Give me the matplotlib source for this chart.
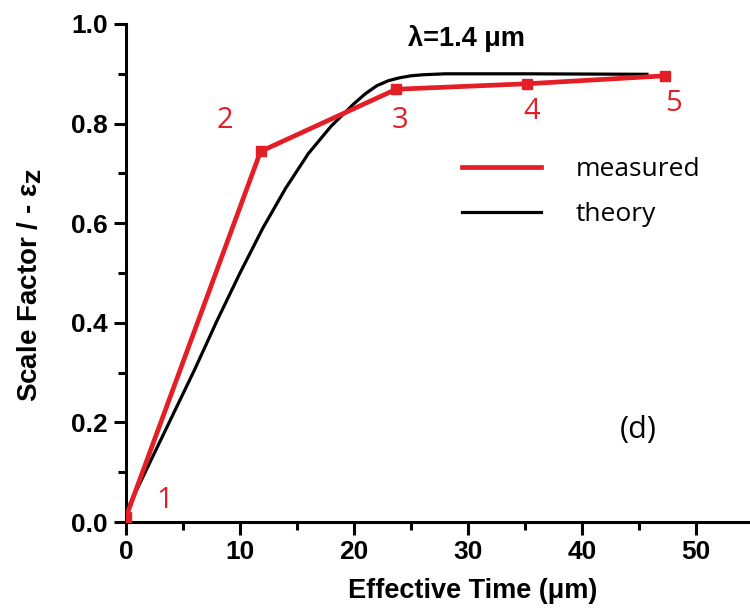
import numpy as np
import matplotlib
matplotlib.use('Agg')
import matplotlib.pyplot as plt
from matplotlib.ticker import MultipleLocator, FormatStrFormatter

plt.rcParams['font.family'] = ['Liberation Sans', 'DejaVu Sans']

# measured scale factor (points 1..5)
t_meas = [0.0, 11.8, 23.7, 35.2, 47.3]
s_meas = [0.01, 0.744, 0.869, 0.880, 0.896]
pt_labels = ['1', '2', '3', '4', '5']
lab_x = [3.4, 8.7, 24.0, 35.6, 48.0]
lab_y = [0.044, 0.807, 0.807, 0.824, 0.841]

# theory curve
t_theo = [0, 2, 4, 6, 8, 10, 12, 14, 16, 18, 20, 21, 22, 23, 24, 25, 26, 28, 35, 45.7]
s_theo = [0.02, 0.115, 0.21, 0.305, 0.405, 0.50, 0.59, 0.67, 0.74, 0.795,
          0.84, 0.86, 0.876, 0.886, 0.892, 0.896, 0.898, 0.900, 0.900, 0.899]

red = '#e41e26'

fig = plt.figure(figsize=(7.5, 6.12), dpi=100)
ax = fig.add_axes([126/750, 90/612, 627/750, 498/612])

ax.plot(t_meas, s_meas, color=red, lw=3.4, marker='s', ms=7, label='measured', zorder=3)
ax.plot(t_theo, s_theo, color='black', lw=2.3, label='theory', zorder=2)

for x, y, s in zip(lab_x, lab_y, pt_labels):
    ax.text(x, y, s, color=red, fontsize=21, family='Open Sans', ha='center', va='center')

ax.text(29.9, 0.970, 'λ=1.4 μm', fontsize=19.5, fontweight='bold', ha='center', va='center')
ax.text(44.9, 0.185, '(d)', fontsize=22, family='Open Sans', ha='center', va='center')

leg = ax.legend(loc='upper left', bbox_to_anchor=((462-126)/627, (522-157)/498),
                frameon=False, handlelength=3.0, handletextpad=1.3, labelspacing=0.75,
                prop={'family': 'Open Sans', 'size': 19}, borderpad=0, borderaxespad=0)
for h in leg.legend_handles:
    h.set_marker('')

ax.set_xlim(0, 55)
ax.set_ylim(0, 1.0)
ax.xaxis.set_major_locator(MultipleLocator(10))
ax.xaxis.set_minor_locator(MultipleLocator(5))
ax.yaxis.set_major_locator(MultipleLocator(0.2))
ax.yaxis.set_minor_locator(MultipleLocator(0.1))
ax.yaxis.set_major_formatter(FormatStrFormatter('%.1f'))

for sp in ['top', 'right']:
    ax.spines[sp].set_visible(False)
for sp in ['left', 'bottom']:
    ax.spines[sp].set_linewidth(2.2)

ax.tick_params(which='major', direction='out', length=9, width=2.2, labelsize=19, pad=4)
ax.tick_params(which='minor', direction='out', length=5.5, width=2.2)
for lab in ax.get_xticklabels() + ax.get_yticklabels():
    lab.set_fontweight('bold')

ax.set_xlabel('Effective Time (μm)', fontsize=19.5, fontweight='bold')
ax.set_ylabel(r'Scale Factor / - ε$_{\mathbf{Z}}$', fontsize=20, fontweight='bold')
ax.xaxis.set_label_coords(0.553, -0.112)
ax.yaxis.set_label_coords(-0.13, 0.476)

fig.savefig('out.png', dpi=100)
